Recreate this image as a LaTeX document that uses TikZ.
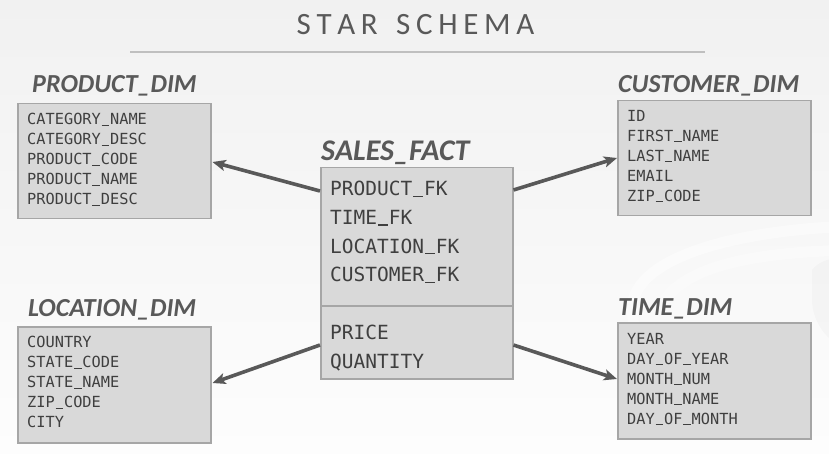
\documentclass[tikz,border=0pt]{standalone}
\usepackage{fontspec}
\setmainfont{Carlito}
\newfontfamily\monof{DejaVu Sans Mono}
\usetikzlibrary{arrows.meta,calc}
\definecolor{bgtop}{HTML}{F1F1F1}
\definecolor{bgbot}{HTML}{FDFDFD}
\definecolor{boxfill}{HTML}{D9D9D9}
\definecolor{boxline}{HTML}{A6A6A6}
\definecolor{txt}{HTML}{3F3F3F}
\definecolor{head}{HTML}{595959}
\definecolor{arrowc}{HTML}{595959}
\definecolor{rule}{HTML}{BFBFBF}
\newcommand\usc{\makebox[0.602em][c]{\rule[-0.07em]{0.5em}{0.075em}}}
\tikzset{
  tbl/.style={draw=boxline, line width=1.5pt, fill=boxfill, rectangle, inner sep=0pt,
    anchor=north west, minimum width=193pt, minimum height=115pt},
  dimtext/.style={anchor=north west, inner sep=0pt, align=left, text=txt,
    font=\monof\fontsize{15.3}{20}\selectfont},
  facttext/.style={anchor=north west, inner sep=0pt, align=left, text=txt,
    font=\monof\fontsize{19.5}{28.7}\selectfont},
  tblhead/.style={anchor=base west, inner sep=0pt, text=head,
    font=\bfseries\itshape\fontsize{26}{30}\selectfont},
  link/.style={draw=arrowc, line width=3.6pt, -{Stealth[length=13pt,width=11pt,inset=3pt]}},
  wmark/.style={draw=white, opacity=0.45, line width=11pt}
}
\begin{document}
\begin{tikzpicture}[x=1pt,y=-1pt]
  \shade[top color=bgtop, bottom color=bgbot] (0,0) rectangle (829,454);
  \useasboundingbox (0,0) rectangle (829,454);
  % faint watermark (database cylinder)
  \begin{scope}
    \clip (0,0) rectangle (829,454);
    \draw[wmark] (632,305) .. controls (640,250) and (760,228) .. (860,226);
    \draw[wmark] (632,305) .. controls (636,360) and (640,410) .. (652,470);
    \draw[wmark, opacity=0.3] (665,300) .. controls (690,262) and (770,252) .. (850,250);
    \fill[black, opacity=0.02] (812,270) .. controls (818,262) and (829,258) .. (840,258) -- (840,345) .. controls (826,340) and (812,320) .. (812,300) -- cycle;
  \end{scope}
  % title
  \node[anchor=base, inner sep=0pt, text=head, font=\fontsize{31}{34}\selectfont] (title) at (415.5,35)
    {S\kern5.7pt T\kern5.7pt A\kern5.7pt R\kern5.7pt\ \kern5.7pt S\kern5.7pt C\kern5.7pt H\kern5.7pt E\kern5.7pt M\kern5.7pt A};
  \draw[draw=rule, line width=2pt] (130,52) -- (705,52);
  % tables
  \node[tbl] (prod) at (17,103) {};
  \node[tbl] (cust) at (617,100) {};
  \node[tbl, minimum height=116pt] (loc) at (17,326) {};
  \node[tbl, minimum height=116pt] (time) at (617,322) {};
  \node[tbl, minimum width=192pt, minimum height=211pt] (fact) at (320,167) {};
  \draw[draw=boxline, line width=1.5pt] ($(fact.north west)+(0,139)$) coordinate (sepl) -- ($(fact.north east)+(0,139)$) coordinate (sepr);
  % headers
  \node[tblhead] (prodh) at ($(prod.north west)+(15,-10)$) {PRODUCT\_DIM};
  \node[tblhead] (custh) at ($(cust.north west)+(1,-7)$) {CUSTOMER\_DIM};
  \node[tblhead] (loch) at ($(loc.north west)+(11,-10)$) {LOCATION\_DIM};
  \node[tblhead] (timeh) at ($(time.north west)+(1,-7)$) {TIME\_DIM};
  \node[tblhead, font=\bfseries\itshape\fontsize{30}{34}\selectfont] (facth) at ($(fact.north west)+(1,-6)$) {SALES\_FACT};
  % contents
  \node[dimtext] (prodt) at ($(prod.north west)+(10,10.4)$)
    {CATEGORY\usc NAME\\CATEGORY\usc DESC\\PRODUCT\usc CODE\\PRODUCT\usc NAME\\PRODUCT\usc DESC};
  \node[dimtext] (custt) at ($(cust.north west)+(10,9.8)$)
    {ID\\FIRST\usc NAME\\LAST\usc NAME\\EMAIL\\ZIP\usc CODE};
  \node[dimtext] (loct) at ($(loc.north west)+(10,10.4)$)
    {COUNTRY\\STATE\usc CODE\\STATE\usc NAME\\ZIP\usc CODE\\CITY};
  \node[dimtext] (timet) at ($(time.north west)+(10,11)$)
    {YEAR\\DAY\usc OF\usc YEAR\\MONTH\usc NUM\\MONTH\usc NAME\\DAY\usc OF\usc MONTH};
  \node[facttext] (factk) at ($(fact.north west)+(10,14)$)
    {PRODUCT\usc FK\\TIME\usc FK\\LOCATION\usc FK\\CUSTOMER\usc FK};
  \node[facttext] (factm) at ($(sepl)+(10,19)$)
    {PRICE\\QUANTITY};
  % connectors
  \draw[link] ($(fact.north west)+(0,24)$) -- ($(prod.north east)+(1,59)$);
  \draw[link] ($(fact.north east)+(0,23)$) -- ($(cust.north west)+(0,58)$);
  \draw[link] ($(fact.north west)+(0,178)$) -- ($(loc.north east)+(1,57)$);
  \draw[link] ($(fact.north east)+(0,178)$) -- ($(time.north west)+(0,57)$);
\end{tikzpicture}
\end{document}
